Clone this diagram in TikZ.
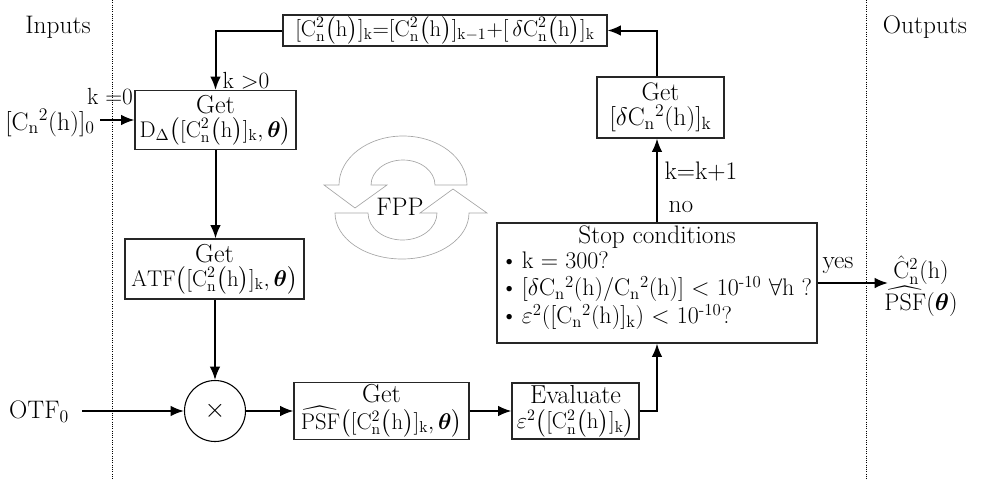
\RequirePackage{fix-cm}
\documentclass[tikz,border=0pt]{standalone}
\usepackage{amsmath,bm}
\usepackage{fontspec}
\usetikzlibrary{arrows.meta}
\newcommand\boxfont{\fontsize{17}{19}\selectfont}
\newcommand\getfont{\fontsize{19.5}{21}\selectfont}
\newcommand\outfont{\fontsize{19}{22}\selectfont}
\newcommand\smfont{\fontsize{17.5}{21}\selectfont}
\newcommand\Cnb{\mathrm{C}_{\mathrm{n}}^{2}}
\newcommand\Cst{C$_{\mathrm{n}}{}^{2}$}
\newcommand\hh{\bigl(\mathrm{h}\bigr)}
\tikzset{
  box/.style={draw=black!85,line width=0.8pt,align=center,inner sep=1pt,font=\boxfont},
  arr/.style={line width=1.5pt,-{Latex[length=10pt,width=8pt]}},
  sep/.style={densely dotted,line width=0.7pt},
  lbl/.style={font=\outfont,inner sep=1pt},
  slbl/.style={font=\smfont,inner sep=1pt},
  fpp/.style={draw=black!35,line width=0.5pt}
}
\begin{document}
\begin{tikzpicture}[x=0.75pt,y=-0.75pt]
\useasboundingbox (0,0) rectangle (981,479);
% separators
\draw[sep] (112,0) -- (112,479);
\draw[sep] (866,0) -- (866,479);
\node[lbl] (inputs) at (58,27) {Inputs};
\node[lbl] (outputs) at (925,27) {Outputs};
% FPP icon
\draw[fpp] (467,185) arc[start angle=0,end angle=-180,x radius=64,y radius=49]
  -- (324,185) -- (355,208) -- (387,185) -- (371,185)
  arc[start angle=-180,end angle=0,x radius=32,y radius=25] -- cycle;
\draw[fpp] (335,213) arc[start angle=180,end angle=0,x radius=67,y radius=46]
  -- (487,213) -- (453,189) -- (420,213) -- (437,213)
  arc[start angle=0,end angle=180,x radius=34.5,y radius=27] -- cycle;
\node[lbl] (fpptxt) at (400,207) {FPP};
% boxes
\node[box,minimum width=243pt,minimum height=23.25pt] (top) at (445,30.5)
  {$[\Cnb\hh]_{\mathrm{k}}{=}[\Cnb\hh]_{\mathrm{k}-1}{+}[\,\delta\Cnb\hh]_{\mathrm{k}}$};
\node[box,minimum width=120.75pt,minimum height=44.25pt] (D) at (215.5,120)
  {{\getfont Get}\\[-1pt]$\mathrm{D}_{\Delta}\bigl([\Cnb\hh]_{\mathrm{k}},\bm{\theta}\bigr)$};
\node[box,minimum width=134.25pt,minimum height=45pt] (atf) at (214.5,269)
  {{\getfont Get}\\[-1pt]$\mathrm{ATF}\bigl([\Cnb\hh]_{\mathrm{k}},\bm{\theta}\bigr)$};
\node[draw=black,line width=0.8pt,circle,minimum size=45.75pt,inner sep=0pt,font=\fontsize{20}{20}\selectfont] (mul) at (215,411) {$\times$};
\node[box,minimum width=131.25pt,minimum height=42.75pt] (psf) at (381.5,411)
  {{\getfont Get}\\[1pt]$\widehat{\mathrm{PSF}}\bigl([\Cnb\hh]_{\mathrm{k}},\bm{\theta}\bigr)$};
\node[box,minimum width=95.25pt,minimum height=42pt] (eval) at (575.5,411)
  {{\getfont Evaluate}\\[0pt]$\varepsilon^{2}\bigl([\Cnb\hh]_{\mathrm{k}}\bigr)$};
\node[box,minimum width=240pt,minimum height=90pt] (stop) at (657,283) {};
\node[box,font=\outfont,minimum width=95.25pt,minimum height=45.75pt] (getd) at (660.5,107.5)
  {Get\\[-3pt][$\delta$\Cst(h)]$_{\mathrm{k}}$};
% stop text
\node[lbl] (s0) at (657,237) {Stop conditions};
\node[slbl,anchor=west,font=\fontsize{18}{21}\selectfont] (s1) at (499,260) {\textbullet\,k = 300?};
\node[slbl,anchor=west,font=\fontsize{18}{21}\selectfont] (s2) at (499,289) {\textbullet\,[$\delta$\Cst(h)/\Cst(h)] < 10\textsuperscript{-10} $\forall$h ?};
\node[slbl,anchor=west,font=\fontsize{18}{21}\selectfont] (s3) at (499,317) {\textbullet\,$\varepsilon^{2}$([\Cst(h)]$_{\mathrm{k}}$) < 10\textsuperscript{-10}?};
% inputs / outputs
\node[lbl] (cin) at (50,123) {[\Cst(h)]$_{0}$};
\coordinate (cinE) at (100,120);
\node[slbl] (k0) at (110,97) {k =0};
\node[lbl] (otf) at (39,412) {OTF$_{0}$};
\coordinate (otfE) at (82,411);
\coordinate (outE) at (888,283);
\node[lbl] (yes) at (838,265) {yes};
\node[font=\fontsize{18}{19}\selectfont,inner sep=0pt] (out1) at (921,270) {$\hat{\mathrm{C}}^{2}_{\mathrm{n}}(\mathrm{h})$};
\node[font=\fontsize{18}{19}\selectfont,inner sep=0pt] (out2) at (921,301) {$\widehat{\mathrm{PSF}}(\bm{\theta})$};
% labels
\node[slbl,anchor=west] (kgt) at (221,81) {k >0};
\node[lbl,anchor=west] (kk) at (663,172) {k=k+1};
\node[lbl,anchor=west] (no) at (667,207) {no};
% connectors
\draw[arr] (top.west) -| (D.north);
\draw[arr] (cinE) -- (cinE -| D.west);
\draw[arr] (D.south) -- (D.south |- atf.north);
\draw[arr] (atf.south -| mul.north) -- (mul.north);
\draw[arr] (otfE) -- (mul.west);
\draw[arr] (mul.east) -- (mul.east -| psf.west);
\draw[arr] (psf.east) -- (eval.west);
\draw[arr] (eval.east) -| (stop.south);
\draw[arr] (stop.north) -- (stop.north |- getd.south);
\draw[arr] (stop.north |- getd.north) |- (top.east);
\draw[arr] (stop.east) -- (outE);
\end{tikzpicture}
\end{document}
